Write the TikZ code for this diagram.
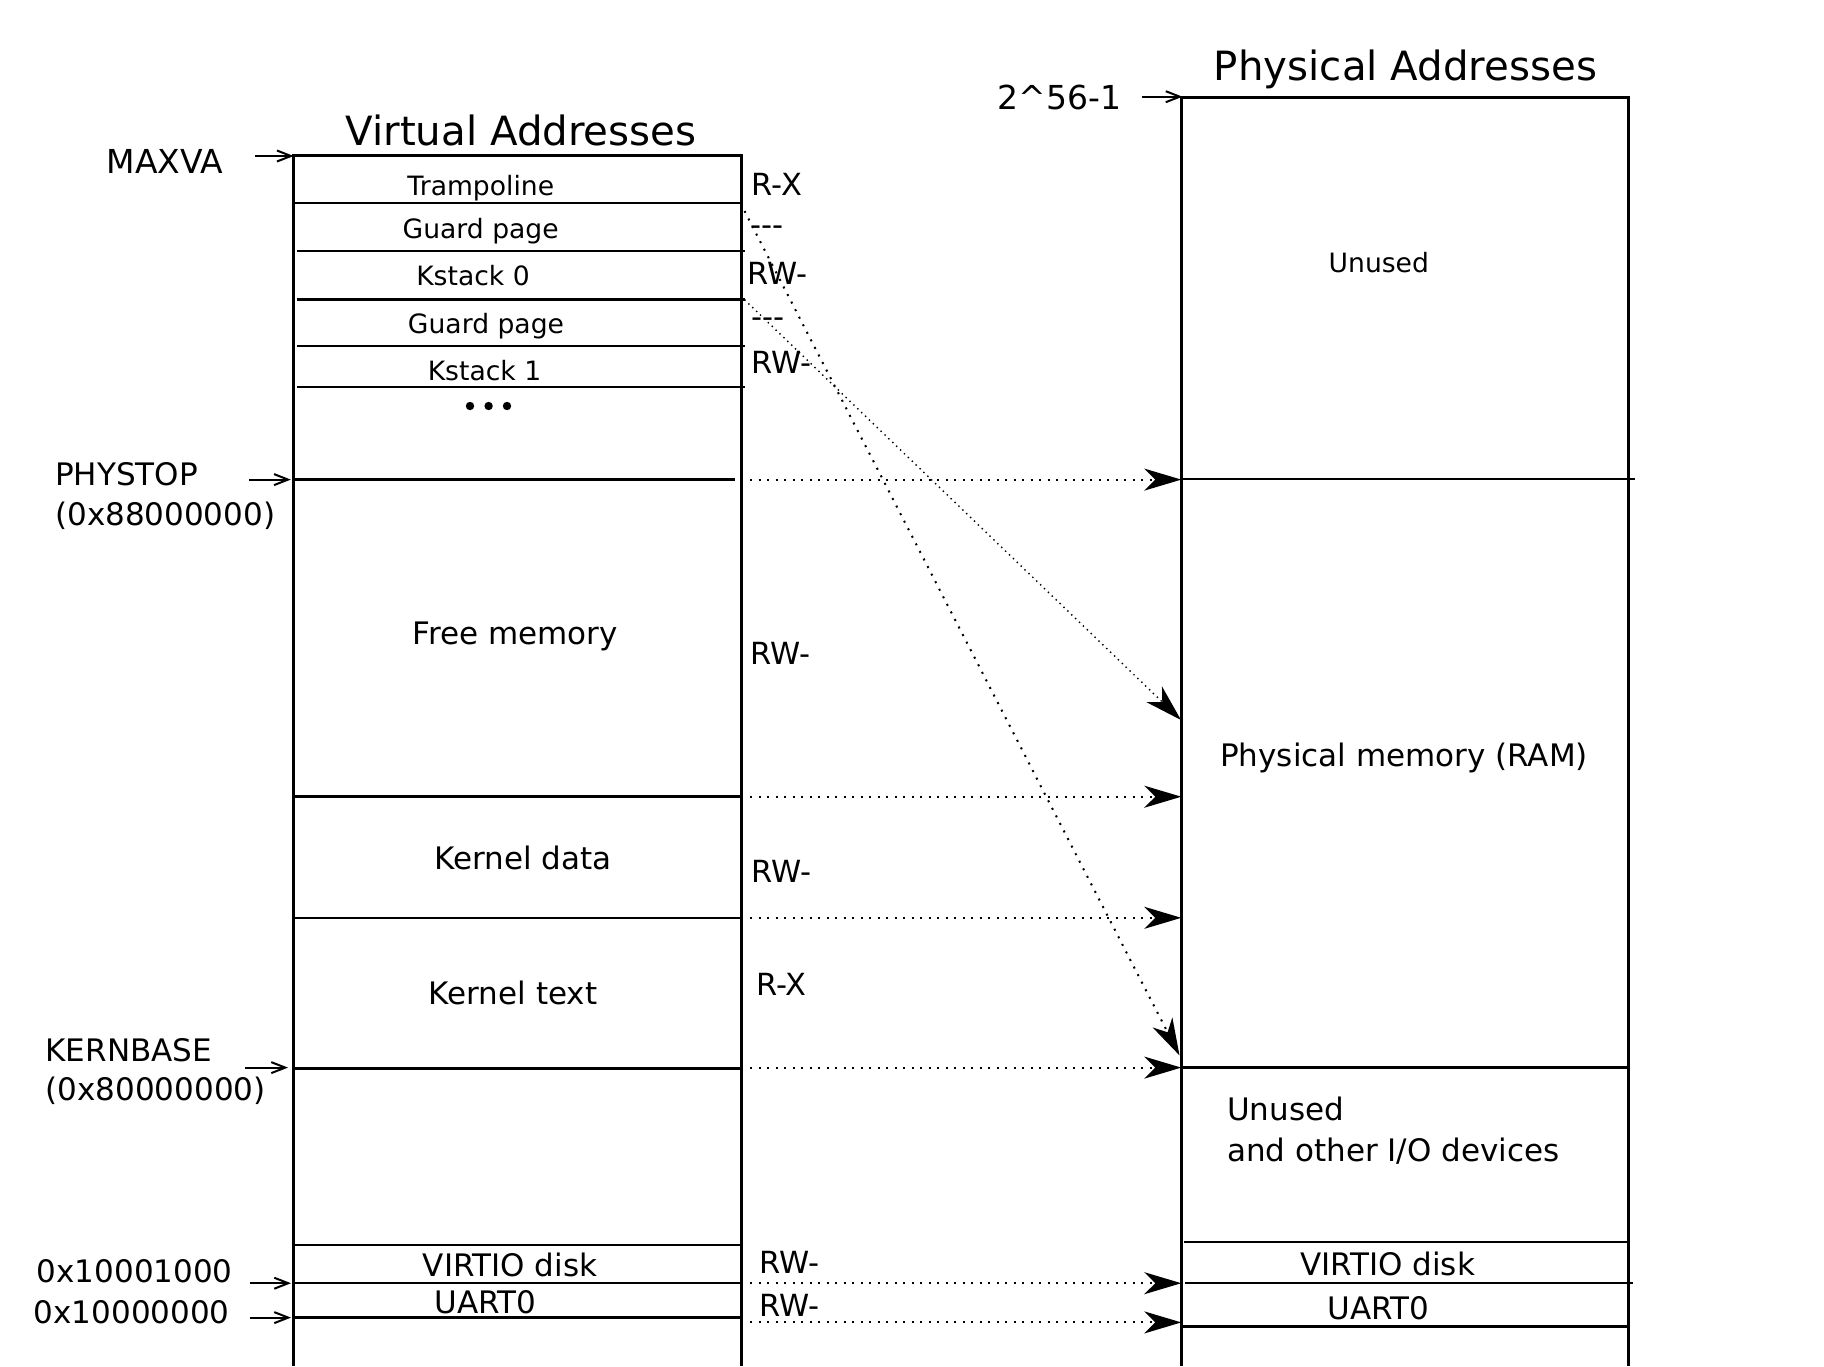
\documentclass[tikz,border=0pt]{standalone}
\usepackage{fontspec}
\setmainfont{DejaVu Sans}
\usetikzlibrary{arrows.meta}
\tikzset{
  col/.style={line width=3pt},
  sepline/.style={line width=2.5pt},
  txt/.style={inner sep=0pt, anchor=base, font=\fontsize{31}{37}\selectfont},
  txtw/.style={txt, anchor=base west},
  small/.style={inner sep=0pt, anchor=base, font=\fontsize{26.6}{32}\selectfont},
  perm/.style={inner sep=0pt, anchor=base west, font=\fontsize{30.5}{36}\selectfont},
  side/.style={inner sep=0pt, anchor=base west, font=\fontsize{31}{37}\selectfont},
  bigside/.style={side, font=\fontsize{33}{39}\selectfont},
  ttl/.style={inner sep=0pt, anchor=base, font=\fontsize{40.3}{48}\selectfont},
  ptr/.style={line width=2pt, -{Straight Barb[length=14pt,width=11pt,line width=2pt]}},
  maparrow/.style={line width=2pt, dash pattern=on 2pt off 6.5pt, -{Stealth[length=37pt,width=22pt,inset=11pt]}},
  finearrow/.style={line width=1.4pt, dash pattern=on 1.4pt off 4pt, -{Stealth[length=37pt,width=22pt,inset=11pt]}},
}
\begin{document}
\begin{tikzpicture}[x=1pt,y=-1pt]
\useasboundingbox (0,0) rectangle (1824,1366);

% ---------- Virtual column ----------
\draw[col] (293.7,1366) -- (293.7,155.9) -- (741.6,155.9) -- (741.6,1366);
\draw[sepline] (293.7,203) -- (741.6,203);
\draw[sepline] (297,250.9) -- (745,250.9);
\draw[sepline] (297,299.7) -- (745,299.7);
\draw[sepline] (297,345.8) -- (745,345.8);
\draw[sepline] (297,387.2) -- (745,387.2);
\draw[sepline] (293.7,479.6) -- (734.6,479.6);
\draw[sepline] (293.7,796.7) -- (741.6,796.7);
\draw[sepline] (293.7,917.8) -- (741.6,917.8);
\draw[sepline] (293.7,1068.5) -- (741.6,1068.5);
\draw[sepline] (293.7,1244.8) -- (741.6,1244.8);
\draw[sepline] (293.7,1283.2) -- (741.6,1283.2);
\draw[sepline] (293.7,1317.6) -- (741.6,1317.6);

\node[ttl] (vtitle) at (521,145) {Virtual Addresses};
\node[small] (tramp) at (480.8,195) {Trampoline};
\node[small] (guard0) at (480.7,238) {Guard page};
\node[small] (ks0) at (473,285) {Kstack 0};
\node[small] (guard1) at (486,333) {Guard page};
\node[small] (ks1) at (484.5,380) {Kstack 1};
\fill (470,406) circle (4.2pt);
\fill (488.6,406) circle (4.2pt);
\fill (507,406) circle (4.2pt);
\node[txt] (free) at (515,644.6) {Free memory};
\node[txt] (kdata) at (523,869.4) {Kernel data};
\node[txt] (ktext) at (513,1004.4) {Kernel text};
\node[txt] (vvirtio) at (510,1276) {VIRTIO disk};
\node[txt] (vuart) at (485.7,1313) {UART0};

% permissions
\node[perm] (p1) at (751.5,195) {R-X};
\node[perm] (p2) at (750,235) {-{}-{}-};
\node[perm] (p3) at (747,284) {RW-};
\node[perm] (p4) at (751.5,327) {-{}-{}-};
\node[perm] (p5) at (751.5,373.7) {RW-};
\node[perm] (p6) at (750,664) {RW-};
\node[perm] (p7) at (751.5,882.5) {RW-};
\node[perm] (p8) at (756,995) {R-X};
\node[perm] (p9) at (759,1273) {RW-};
\node[perm] (p10) at (759,1316.8) {RW-};

% side labels
\node[bigside] (maxva) at (106.4,173.4) {MAXVA};
\node[side] (phystop) at (55,485.7) {PHYSTOP};
\node[side] (phystopv) at (55,525) {(0x88000000)};
\node[side] (kbase) at (45.4,1061) {KERNBASE};
\node[side] (kbasev) at (45.4,1100) {(0x80000000)};
\node[side] (virtioa) at (36.6,1282) {0x10001000};
\node[side] (uarta) at (33.7,1323.3) {0x10000000};
\node[bigside] (top56) at (997.5,109) {2\^{}56-1};

\coordinate (a1s) at (254.8,156);    \coordinate (a1e) at (293.7,156);
\coordinate (a2s) at (249,479.6);    \coordinate (a2e) at (290.8,479.6);
\coordinate (a3s) at (245.4,1067.6); \coordinate (a3e) at (288,1067.6);
\coordinate (a4s) at (250,1283.2);   \coordinate (a4e) at (291,1283.2);
\coordinate (a5s) at (250,1317.6);   \coordinate (a5e) at (291,1317.6);
\coordinate (a6s) at (1141.7,96.7);  \coordinate (a6e) at (1182.5,96.7);
\foreach \i in {1,...,6} \draw[ptr] (a\i s) -- (a\i e);

% ---------- Physical column ----------
\draw[col] (1181.3,1366) -- (1181.3,97) -- (1628.6,97) -- (1628.6,1366);
\draw[sepline] (1181.3,479) -- (1635,479);
\draw[sepline] (1181.3,1067.6) -- (1628.6,1067.6);
\draw[sepline] (1184,1241.8) -- (1628.6,1241.8);
\draw[sepline] (1185,1283.2) -- (1633,1283.2);
\draw[sepline] (1181.3,1326.3) -- (1628.6,1326.3);

\node[ttl] (ptitle) at (1405.5,80.6) {Physical Addresses};
\node[small] (unused) at (1378.8,272) {Unused};
\node[txtw] (ram) at (1220,766.6) {Physical memory (RAM)};
\node[txtw] (unused2) at (1227,1120.7) {Unused};
\node[txtw] (otherio) at (1227,1161) {and other I/O devices};
\node[txt] (pvirtio) at (1387.8,1275) {VIRTIO disk};
\node[txt] (puart) at (1378.6,1319) {UART0};

% ---------- mapping arrows ----------
\coordinate (m1s) at (750,479.6);  \coordinate (m1e) at (1181.3,479.6);
\coordinate (m2s) at (750,796.7);  \coordinate (m2e) at (1181.3,796.7);
\coordinate (m3s) at (750,917.8);  \coordinate (m3e) at (1181.3,917.8);
\coordinate (m4s) at (750,1067.6); \coordinate (m4e) at (1181.3,1067.6);
\coordinate (m5s) at (750,1283.2); \coordinate (m5e) at (1181.3,1283.2);
\coordinate (m6s) at (750,1322.4); \coordinate (m6e) at (1181.3,1322.4);
\foreach \i in {1,...,6} \draw[maparrow] (m\i s) -- (m\i e);

\coordinate (d1s) at (744.5,211);   \coordinate (d1e) at (1179.5,1055.4);
\coordinate (d2s) at (744.5,299.7); \coordinate (d2e) at (1181,720);
\draw[maparrow] (d1s) -- (d1e);
\draw[finearrow] (d2s) -- (d2e);
\end{tikzpicture}
\end{document}
